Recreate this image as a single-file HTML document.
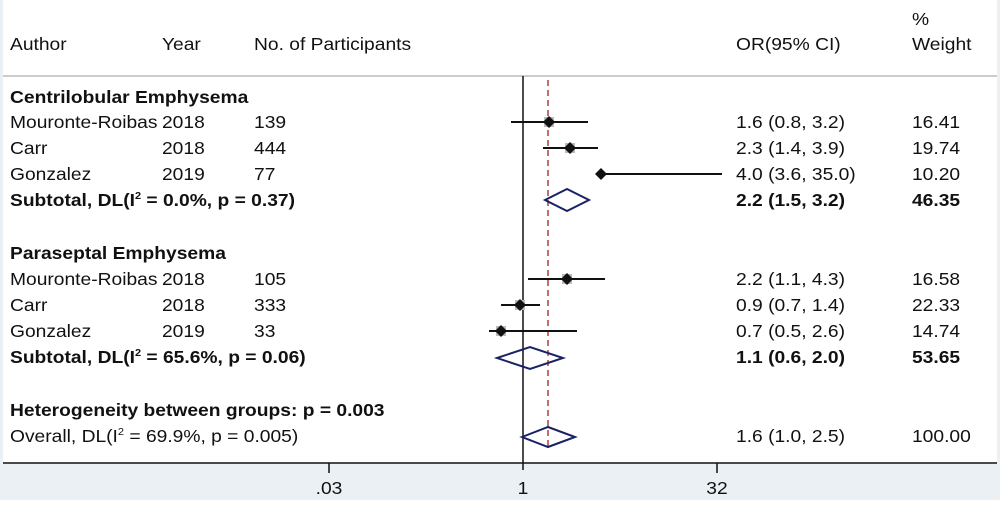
<!DOCTYPE html>
<html><head><style>
body{margin:0;width:1000px;height:500px;overflow:hidden;background:#fff;font-family:"Liberation Sans",Arial,sans-serif}
text{transform-box:fill-box;transform-origin:left center;transform:scaleX(1.1)}
text.c{transform-origin:center center}
</style></head><body>
<svg width="1000" height="500" xmlns="http://www.w3.org/2000/svg" font-family="Liberation Sans, Arial, sans-serif" font-size="17.5" fill="#111">
<rect x="0" y="463" width="1000" height="37" fill="#eaf0f3"/>
<rect x="0" y="0" width="3" height="500" fill="#eaf0f3"/>
<rect x="997" y="0" width="3" height="500" fill="#eaf0f3"/>
<line x1="3" y1="76" x2="997" y2="76" stroke="#bbb" stroke-width="1.5"/>
<text x="10" y="50">Author</text><text x="162" y="50">Year</text><text x="254" y="50">No. of Participants</text>
<text x="736" y="50">OR(95% CI)</text><text x="912" y="25">%</text><text x="912" y="50">Weight</text>
<g font-weight="bold">
<text x="10" y="103">Centrilobular Emphysema</text>
<text x="10" y="206">Subtotal, DL(I<tspan dy="-7" font-size="10">2</tspan><tspan dy="7"> = 0.0%, p = 0.37)</tspan></text>
<text x="10" y="259">Paraseptal Emphysema</text>
<text x="10" y="363">Subtotal, DL(I<tspan dy="-7" font-size="10">2</tspan><tspan dy="7"> = 65.6%, p = 0.06)</tspan></text>
<text x="10" y="416">Heterogeneity between groups: p = 0.003</text>
<text x="736" y="206">2.2 (1.5, 3.2)</text><text x="736" y="363">1.1 (0.6, 2.0)</text>
</g>
<text x="10" y="128">Mouronte-Roibas</text><text x="162" y="128">2018</text><text x="254" y="128">139</text>
<text x="10" y="154">Carr</text><text x="162" y="154">2018</text><text x="254" y="154">444</text>
<text x="10" y="180">Gonzalez</text><text x="162" y="180">2019</text><text x="254" y="180">77</text>
<text x="10" y="285">Mouronte-Roibas</text><text x="162" y="285">2018</text><text x="254" y="285">105</text>
<text x="10" y="311">Carr</text><text x="162" y="311">2018</text><text x="254" y="311">333</text>
<text x="10" y="337">Gonzalez</text><text x="162" y="337">2019</text><text x="254" y="337">33</text>
<text x="10" y="442">Overall, DL(I<tspan dy="-7" font-size="10">2</tspan><tspan dy="7"> = 69.9%, p = 0.005)</tspan></text>
<text x="736" y="128">1.6 (0.8, 3.2)</text><text x="912" y="128">16.41</text>
<text x="736" y="154">2.3 (1.4, 3.9)</text><text x="912" y="154">19.74</text>
<text x="736" y="180">4.0 (3.6, 35.0)</text><text x="912" y="180">10.20</text>
<text x="912" y="206" font-weight="bold">46.35</text>
<text x="736" y="285">2.2 (1.1, 4.3)</text><text x="912" y="285">16.58</text>
<text x="736" y="311">0.9 (0.7, 1.4)</text><text x="912" y="311">22.33</text>
<text x="736" y="337">0.7 (0.5, 2.6)</text><text x="912" y="337">14.74</text>
<text x="912" y="363" font-weight="bold">53.65</text>
<text x="736" y="442">1.6 (1.0, 2.5)</text><text x="912" y="442">100.00</text>
<line x1="523" y1="76" x2="523" y2="470" stroke="#111" stroke-width="1.5"/>
<line x1="548" y1="80" x2="548" y2="450" stroke="#a02020" stroke-width="1.3" stroke-dasharray="6,4"/>
<line x1="3" y1="463" x2="997" y2="463" stroke="#111" stroke-width="1.5"/>
<g stroke="#111" stroke-width="1.5"><line x1="329" y1="463" x2="329" y2="473"/><line x1="717" y1="463" x2="717" y2="473"/></g>
<text class="c" x="329" y="494" text-anchor="middle">.03</text><text class="c" x="523" y="494" text-anchor="middle">1</text><text class="c" x="717" y="494" text-anchor="middle">32</text>
<g stroke="#111" stroke-width="2">
<line x1="511" y1="122" x2="588" y2="122"/><line x1="543" y1="148" x2="598" y2="148"/><line x1="601" y1="174" x2="722" y2="174"/>
<line x1="528" y1="279" x2="605" y2="279"/><line x1="501" y1="305" x2="540" y2="305"/><line x1="489" y1="331" x2="577" y2="331"/>
</g>
<g fill="#bbb">
<rect x="544" y="117" width="10" height="10"/><rect x="565" y="143" width="10" height="10"/><rect x="562" y="274" width="10" height="10"/><rect x="515" y="300" width="10" height="10"/><rect x="496" y="326" width="10" height="10"/>
</g>
<g fill="#111">
<path d="M549 116l6 6-6 6-6-6z"/><path d="M570 142l6 6-6 6-6-6z"/><path d="M601 168l6 6-6 6-6-6z"/>
<path d="M567 273l6 6-6 6-6-6z"/><path d="M520 299l6 6-6 6-6-6z"/><path d="M501 325l6 6-6 6-6-6z"/>
</g>
<g fill="none" stroke="#1a2266" stroke-width="2">
<path d="M545 200L567 189L589 200L567 211Z"/>
<path d="M497 358L530 347L563 358L530 369Z"/>
<path d="M522 437L548 427L575 437L548 447Z"/>
</g>
</svg>
</body></html>
